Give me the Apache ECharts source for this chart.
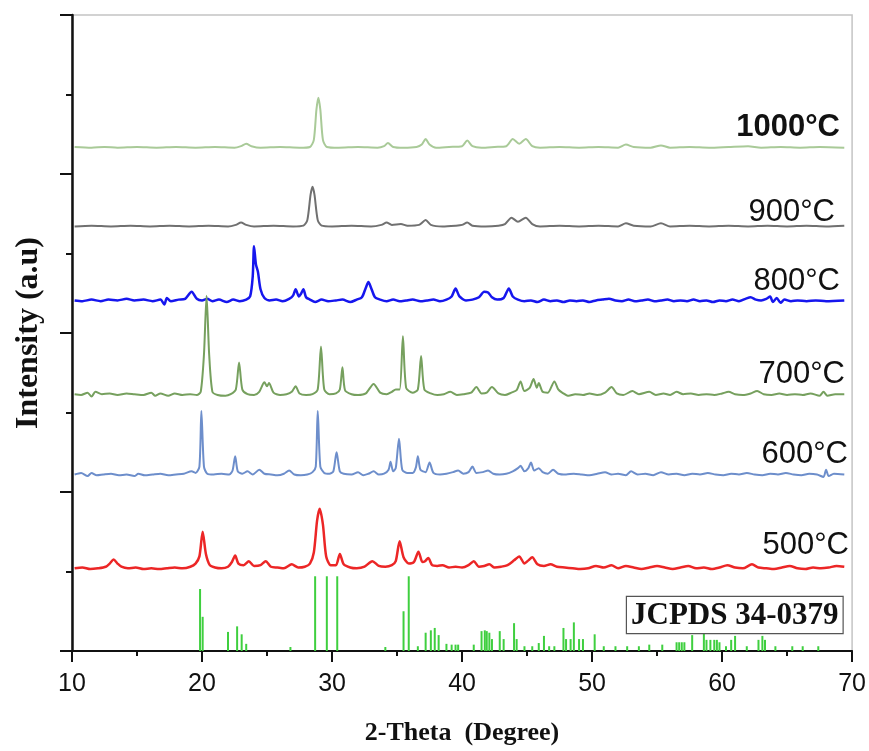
<!DOCTYPE html>
<html>
<head>
<meta charset="utf-8">
<title>XRD</title>
<script src="https://cdn.jsdelivr.net/npm/echarts@6/dist/echarts.min.js"></script>
<style>
  html, body { margin: 0; padding: 0; background: #fff; }
  #chart { width: 869px; height: 751px; }
</style>
</head>
<body>
<div id="chart"></div>
<script>
// XRD patterns, [2theta, intensity above own baseline]
const p500 = [[10.2,0],[10.8,1],[11.4,-1],[12.0,0],[12.6,2],[12.9,6],[13.2,11],[13.5,6],[13.8,2],[14.3,0],[14.9,1],[15.5,-1],[16.1,0],[16.7,-1],[17.3,0],[17.9,1],[18.5,0],[19.1,2],[19.5,6],[19.8,15],[20.05,46],[20.3,18],[20.6,4],[21.0,1],[21.5,0],[22.0,2],[22.3,8],[22.55,16],[22.8,6],[23.2,4],[23.6,9],[24.0,3],[24.5,4],[24.9,9],[25.3,2],[25.8,1],[26.3,0],[26.9,5],[27.4,1],[27.9,2],[28.3,6],[28.6,20],[28.85,60],[29.05,75],[29.3,55],[29.55,15],[29.9,4],[30.3,4],[30.6,18],[30.9,5],[31.4,1],[31.9,0],[32.5,2],[33.1,9],[33.6,3],[34.1,2],[34.6,4],[34.9,9],[35.2,34],[35.5,14],[35.9,6],[36.3,8],[36.65,21],[36.95,8],[37.15,9],[37.4,13],[37.7,4],[38.1,3],[38.5,4],[39.0,1],[39.5,2],[40.0,1],[40.5,4],[40.9,9],[41.3,2],[41.7,3],[42.1,5],[42.5,1],[43.0,2],[43.5,4],[44.0,10],[44.4,15],[44.8,6],[45.1,10],[45.4,14],[45.8,5],[46.3,3],[46.8,5],[47.3,2],[47.9,1],[48.5,0],[49.1,-1],[49.7,0],[50.3,3],[50.9,1],[51.5,4],[52.0,0],[52.6,3],[53.2,1],[53.8,-1],[54.4,1],[55.0,3],[55.6,1],[56.2,-1],[56.8,1],[57.4,3],[58.0,0],[58.6,1],[59.2,-1],[59.8,1],[60.4,4],[61.0,1],[61.6,0],[62.3,5],[62.8,1],[63.4,0],[64.0,-1],[64.6,1],[65.2,3],[65.8,0],[66.4,-1],[67.0,1],[67.6,0],[68.2,1],[68.8,3],[69.4,2]]

const p600 = [[10.2,0],[10.7,2],[11.2,-2],[11.5,2],[11.9,-1],[12.4,0],[13.0,1],[13.6,-1],[14.2,0],[14.8,-2],[15.1,1],[15.6,-1],[16.2,0],[16.8,1],[17.4,-1],[18.0,0],[18.6,1],[19.2,4],[19.5,2],[19.8,10],[19.95,80],[20.15,10],[20.4,1],[20.9,0],[21.5,1],[22.1,0],[22.35,5],[22.55,23],[22.75,4],[23.1,1],[23.5,4],[23.9,0],[24.4,6],[24.8,1],[25.3,0],[25.8,-1],[26.3,1],[26.7,5],[27.1,0],[27.6,-1],[28.1,0],[28.5,3],[28.75,10],[28.9,80],[29.1,10],[29.4,2],[29.8,1],[30.1,4],[30.35,28],[30.6,4],[30.9,1],[31.5,0],[32.0,3],[32.4,-1],[32.8,1],[33.2,4],[33.6,0],[34.0,1],[34.35,6],[34.5,16],[34.7,4],[34.9,8],[35.15,45],[35.4,6],[35.8,2],[36.2,2],[36.45,9],[36.6,23],[36.8,6],[37.2,3],[37.5,15],[37.8,2],[38.3,0],[38.8,1],[39.3,3],[39.7,5],[40.1,1],[40.5,3],[40.8,10],[41.1,2],[41.6,3],[42.0,5],[42.4,1],[42.9,0],[43.4,1],[43.9,4],[44.3,8],[44.5,11],[44.8,4],[45.1,8],[45.3,15],[45.55,5],[45.9,8],[46.2,3],[46.6,1],[47.0,6],[47.4,1],[48.0,0],[48.6,1],[49.2,0],[49.8,-1],[50.4,1],[51.0,3],[51.5,0],[52.0,1],[52.6,-1],[53.0,4],[53.5,0],[54.1,1],[54.7,-1],[55.3,3],[55.9,0],[56.5,1],[57.1,-1],[57.7,1],[58.3,0],[58.9,2],[59.5,0],[60.1,-1],[60.7,1],[61.3,0],[61.9,2],[62.5,0],[63.1,-1],[63.7,1],[64.3,0],[64.9,2],[65.5,0],[66.1,-1],[66.7,1],[67.3,0],[67.8,-3],[68.0,6],[68.2,-2],[68.6,1],[69.4,0]]

const p700 = [[10.2,0],[10.7,-1],[11.2,2],[11.5,-3],[11.8,3],[12.3,0],[12.9,1],[13.5,-1],[14.2,1],[14.8,0],[15.5,-1],[16.1,2],[16.4,-2],[16.8,1],[17.4,-2],[17.9,1],[18.5,-1],[19.1,0],[19.6,-1],[19.9,3],[20.15,50],[20.35,124],[20.55,50],[20.8,3],[21.2,-1],[21.8,-2],[22.2,0],[22.6,6],[22.85,40],[23.1,6],[23.5,0],[24.0,-1],[24.4,3],[24.8,15],[25.0,10],[25.15,14],[25.5,2],[26.0,-1],[26.5,0],[26.9,3],[27.2,10],[27.5,1],[28.0,-1],[28.5,0],[28.9,6],[29.15,60],[29.4,6],[29.8,0],[30.3,1],[30.6,6],[30.8,34],[31.0,5],[31.5,0],[32.0,-1],[32.6,1],[33.2,13],[33.7,2],[34.2,0],[34.6,3],[34.9,6],[35.2,6],[35.45,73],[35.7,8],[36.2,2],[36.6,6],[36.85,48],[37.1,6],[37.6,1],[38.1,-1],[38.6,0],[39.1,3],[39.6,-1],[40.1,0],[40.7,2],[41.1,9],[41.5,1],[41.9,2],[42.3,9],[42.8,1],[43.3,-1],[43.8,2],[44.2,5],[44.5,16],[44.8,4],[45.2,8],[45.5,19],[45.75,8],[45.9,14],[46.2,3],[46.6,2],[47.1,16],[47.4,6],[47.7,2],[48.2,-2],[48.7,0],[49.3,-1],[49.8,1],[50.4,-1],[51.0,2],[51.5,9],[51.9,1],[52.4,-1],[53.1,4],[53.6,0],[54.4,3],[54.9,-1],[55.5,1],[56.0,-1],[56.5,3],[57.0,0],[57.6,1],[58.2,-1],[58.8,0],[59.4,-1],[60.0,1],[60.5,3],[61.0,0],[61.6,-1],[62.2,1],[62.7,4],[63.2,0],[63.8,-1],[64.4,1],[65.0,-1],[65.6,0],[66.2,-1],[66.8,1],[67.5,-2],[67.8,3],[68.1,-2],[68.7,0],[69.4,0]]

const p800 = [[10.2,0],[10.8,-1],[11.5,1],[12.2,-1],[12.8,1],[13.5,0],[14.2,2],[14.8,0],[15.5,1],[16.2,-1],[16.8,1],[17.1,-5],[17.3,3],[17.6,-1],[18.2,1],[18.7,2],[19.2,11],[19.6,2],[20.0,0],[20.4,2],[20.8,-1],[21.3,1],[21.9,-2],[22.4,1],[22.9,-1],[23.4,1],[23.7,5],[23.9,30],[24.0,68],[24.15,45],[24.3,36],[24.5,14],[24.8,3],[25.2,0],[25.7,1],[26.2,-1],[26.7,2],[27.0,6],[27.2,14],[27.45,5],[27.6,8],[27.8,14],[28.0,4],[28.3,1],[28.7,-2],[29.2,1],[29.7,-1],[30.3,0],[30.8,1],[31.4,-2],[31.9,1],[32.3,4],[32.6,16],[32.8,23],[33.0,16],[33.3,4],[33.7,1],[34.2,-1],[34.7,1],[35.2,-1],[35.7,0],[36.2,1],[36.8,-1],[37.3,0],[37.8,1],[38.3,-1],[38.8,1],[39.2,5],[39.5,15],[39.8,5],[40.3,0],[40.8,1],[41.3,4],[41.7,11],[42.0,10],[42.3,4],[42.7,1],[43.2,3],[43.6,15],[43.9,5],[44.3,1],[44.8,-1],[45.3,0],[45.8,-2],[46.3,1],[46.8,-1],[47.3,0],[47.8,-2],[48.3,0],[48.8,-1],[49.3,0],[49.8,-2],[50.3,0],[50.8,1],[51.3,2],[51.8,0],[52.3,-1],[52.8,1],[53.3,-1],[53.8,0],[54.3,1],[54.8,-1],[55.3,0],[55.8,1],[56.3,-1],[56.8,0],[57.3,-1],[57.8,1],[58.3,-1],[58.8,0],[59.3,-2],[59.8,0],[60.3,-1],[60.8,1],[61.3,-1],[61.8,2],[62.2,4],[62.6,1],[63.0,0],[63.4,2],[63.7,5],[63.9,-2],[64.2,3],[64.5,-3],[64.8,1],[65.3,-1],[65.8,0],[66.5,-1],[67.2,0],[68,-1],[69.4,0]]

const p900 = [[10.2,0],[11.5,1],[13,0],[14.5,1],[16,0],[17.5,1],[19,0],[20.5,1],[22,0],[22.6,2],[23.0,5],[23.4,2],[24,0],[25.5,1],[27,0],[27.8,1],[28.1,8],[28.35,40],[28.5,50],[28.65,40],[28.9,8],[29.2,1],[30,0],[31.5,1],[33,0],[33.8,2],[34.2,5],[34.6,2],[35.3,3],[35.8,1],[36.7,2],[37.2,8],[37.6,2],[38.5,0],[39.5,1],[40.0,2],[40.4,5],[40.8,1],[41.8,0],[42.8,1],[43.3,3],[43.8,11],[44.3,6],[44.9,11],[45.4,3],[46,0],[47.5,1],[49,0],[50.5,1],[52,0],[52.6,4],[53.2,1],[54.5,0],[55.3,4],[56,0],[57.5,1],[59,0],[60.5,1],[62,0],[63.5,1],[65,0],[66.5,1],[68,0],[69.4,1]]

const p1000 = [[10.2,1],[11.5,0],[12.5,1],[13.5,0],[15,1],[16.5,0],[18,1],[19.5,0],[21,1],[22.5,0],[23.0,2],[23.4,5],[23.8,2],[24.5,0],[26,1],[27.5,0],[28.3,1],[28.6,10],[28.8,48],[28.95,63],[29.1,48],[29.3,10],[29.6,1],[30.5,0],[32,1],[33.5,0],[34.0,2],[34.3,6],[34.7,1],[35.5,0],[36.5,1],[36.9,4],[37.2,11],[37.5,4],[38,0],[39,1],[40.0,2],[40.4,9],[40.8,2],[41.5,0],[42.5,1],[43.4,2],[43.9,11],[44.4,5],[44.9,11],[45.4,2],[46,0],[47.5,1],[49,0],[50.5,1],[52,0],[52.6,4],[53.2,1],[54.5,0],[55.3,3],[56,0],[57.5,1],[59,0],[60.5,1],[62,2],[63,0],[64.5,1],[66,0],[67.5,1],[69.4,0]]

const patterns = [p500, p600, p700, p800, p900, p1000]
const tempLabels = ['500°C', '600°C', '700°C', '800°C', '900°C', '1000°C']
const offsets = [104, 222, 323, 441, 534, 633]

// reference card JCPDS 34-0379
const jcpdsTheta = [19.85,20.05,22.0,22.7,23.05,23.4,26.8,28.7,29.6,30.4,34.1,35.5,35.9,36.6,37.2,37.6,37.9,38.2,38.8,39.2,39.5,39.7,40.9,41.5,41.75,41.9,42.1,42.3,42.9,43.2,44.0,44.2,44.8,45.4,45.9,46.3,46.7,47.1,47.8,48.0,48.35,48.6,49.0,49.3,50.2,50.9,51.8,52.7,53.6,54.4,55.4,56.5,56.7,56.9,57.1,57.7,58.6,58.8,59.1,59.4,59.6,59.8,60.3,60.7,61.0,61.9,62.8,63.1,63.3,64.1,65.4,66.2,67.4]
const jcpdsInt = [78,43,24,31,21,9,5,94,94,94,5,50,94,6,23,26,29,20,9,8,8,8,8,25,26,25,23,15,25,15,35,15,6,6,10,19,6,6,29,15,15,36,15,15,21,6,6,6,6,8,8,11,11,11,11,20,23,14,14,14,14,11,6,14,19,6,14,19,14,6,6,6,6]

const colors = ['#ec2626', '#6d8ecb', '#76a05e', '#1616ee', '#707070', '#a9ca98']
const widths = [2.5, 2, 2, 2.5, 2, 2]

const chart = echarts.init(document.getElementById('chart'))

const lineSeries = patterns.map((p, i) => ({
  name: tempLabels[i],
  type: 'line',
  data: p.map((d) => [d[0], d[1] + offsets[i]]),
  showSymbol: false,
  smooth: 0.25,
  lineStyle: { color: colors[i], width: widths[i] },
  z: 10 - i,
}))

const labelFont = '31px Liberation Sans'

const option = {
  animation: false,
  grid: {
    left: 72,
    right: 16,
    top: 15,
    bottom: 99,
    show: true,
    borderColor: '#c4c4c4',
    borderWidth: 1.5,
  },
  xAxis: {
    type: 'value',
    min: 10,
    max: 70,
    interval: 10,
    name: '2-Theta  (Degree)',
    nameLocation: 'middle',
    nameGap: 69,
    nameTextStyle: {
      fontFamily: 'Liberation Serif',
      fontWeight: 'bold',
      fontSize: 26,
      color: '#111',
    },
    axisLine: { show: true, lineStyle: { color: '#111', width: 2 } },
    axisTick: { show: true, length: 11, lineStyle: { color: '#111', width: 2 } },
    minorTick: { show: true, splitNumber: 2, length: 5, lineStyle: { color: '#111', width: 2 } },
    splitLine: { show: false },
    axisLabel: {
      fontFamily: 'Liberation Sans',
      fontSize: 25,
      color: '#111',
      margin: 21,
    },
  },
  yAxis: {
    type: 'value',
    min: 0,
    max: 800,
    interval: 200,
    name: 'Intensity (a.u)',
    nameLocation: 'middle',
    nameRotate: 90,
    nameGap: 27,
    nameTextStyle: {
      fontFamily: 'Liberation Serif',
      fontWeight: 'bold',
      fontSize: 32,
      color: '#111',
    },
    axisLine: { show: true, lineStyle: { color: '#111', width: 2.5 } },
    axisTick: { show: true, length: 12, lineStyle: { color: '#111', width: 2 } },
    minorTick: { show: true, splitNumber: 2, length: 6, lineStyle: { color: '#111', width: 2 } },
    splitLine: { show: false },
    axisLabel: { show: false },
  },
  series: [
    {
      name: 'JCPDS 34-0379',
      type: 'bar',
      data: jcpdsTheta.map((t, i) => [t, jcpdsInt[i]]),
      barWidth: 2,
      itemStyle: { color: '#3fcf3f' },
      z: 1,
    },
    ...lineSeries,
  ],
  graphic: [
    // temperature labels
    { type: 'text', x: 849, y: 545, style: { text: '500°C', font: labelFont, fill: '#111', align: 'right', verticalAlign: 'middle' } },
    { type: 'text', x: 848, y: 454, style: { text: '600°C', font: labelFont, fill: '#111', align: 'right', verticalAlign: 'middle' } },
    { type: 'text', x: 845, y: 374, style: { text: '700°C', font: labelFont, fill: '#111', align: 'right', verticalAlign: 'middle' } },
    { type: 'text', x: 840, y: 281, style: { text: '800°C', font: labelFont, fill: '#111', align: 'right', verticalAlign: 'middle' } },
    { type: 'text', x: 835, y: 212, style: { text: '900°C', font: labelFont, fill: '#111', align: 'right', verticalAlign: 'middle' } },
    { type: 'text', x: 840, y: 127, style: { text: '1000°C', font: 'bold ' + labelFont, fill: '#111', align: 'right', verticalAlign: 'middle' } },
    {
      type: 'text',
      x: 627,
      y: 597,
      z: 20,
      style: {
        text: 'JCPDS 34-0379',
        font: 'bold 31px Liberation Serif',
        fill: '#111',
        backgroundColor: '#fff',
        borderColor: '#555',
        borderWidth: 1.2,
        padding: [3, 4, 2, 4],
      },
    },
  ],
}

chart.setOption(option)
</script>
</body>
</html>
